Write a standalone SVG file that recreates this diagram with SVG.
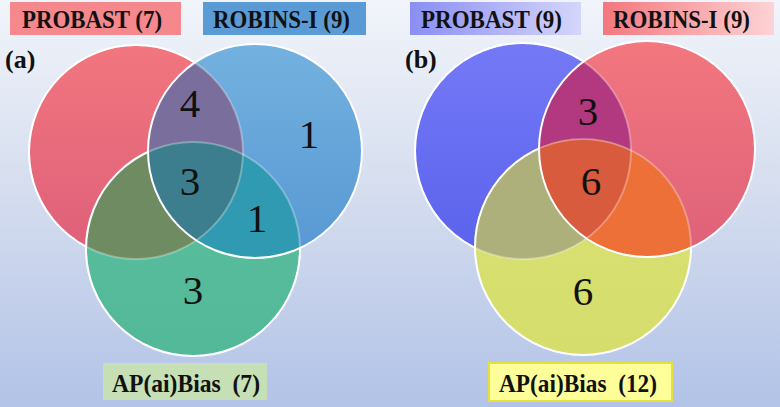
<svg xmlns="http://www.w3.org/2000/svg" width="780" height="407" viewBox="0 0 780 407">
<defs>
<linearGradient id="bg" x1="0" y1="0" x2="0" y2="1">
<stop offset="0" stop-color="#f1f4fa"/>
<stop offset="0.45" stop-color="#d6deef"/>
<stop offset="1" stop-color="#b2c3e7"/>
</linearGradient>
<linearGradient id="gRed" x1="0" y1="0" x2="0" y2="1"><stop offset="0" stop-color="#f1767e"/><stop offset="1" stop-color="#de5f7a"/></linearGradient>
<linearGradient id="gBlue" x1="0" y1="0" x2="0" y2="1"><stop offset="0" stop-color="#73b1df"/><stop offset="1" stop-color="#5898d3"/></linearGradient>
<linearGradient id="gGreen" x1="0" y1="0" x2="0" y2="1"><stop offset="0" stop-color="#5cc09d"/><stop offset="1" stop-color="#52b898"/></linearGradient>
<linearGradient id="gViolet" x1="0" y1="0" x2="0" y2="1"><stop offset="0" stop-color="#7479f6"/><stop offset="1" stop-color="#5a62ec"/></linearGradient>
<linearGradient id="gRed2" x1="0" y1="0" x2="0" y2="1"><stop offset="0" stop-color="#f2777e"/><stop offset="1" stop-color="#de6179"/></linearGradient>
<linearGradient id="gYellow" x1="0" y1="0" x2="0" y2="1"><stop offset="0" stop-color="#d9e173"/><stop offset="1" stop-color="#d5de6c"/></linearGradient>
<linearGradient id="lbBlue" x1="0" y1="0" x2="1" y2="0"><stop offset="0" stop-color="#8a8ef2"/><stop offset="1" stop-color="#d5d6fb"/></linearGradient>
<linearGradient id="lbPink" x1="0" y1="0" x2="1" y2="0"><stop offset="0" stop-color="#f2787e"/><stop offset="1" stop-color="#fdd3d5"/></linearGradient>

<circle id="aA" cx="136" cy="152" r="107"/>
<circle id="aB" cx="255" cy="151" r="107"/>
<circle id="aC" cx="193" cy="249" r="107"/>
<circle id="bA" cx="523" cy="151" r="108"/>
<circle id="bB" cx="647" cy="149" r="108"/>
<circle id="bC" cx="583" cy="247" r="108"/>

<clipPath id="cpaA"><use href="#aA"/></clipPath>
<clipPath id="cpaB"><use href="#aB"/></clipPath>
<clipPath id="cpbA"><use href="#bA"/></clipPath>
<clipPath id="cpbB"><use href="#bB"/></clipPath>

<mask id="maA" maskUnits="userSpaceOnUse" x="0" y="0" width="780" height="407">
<rect width="780" height="407" fill="#fff"/>
<use href="#aB" fill="#000"/><use href="#aC" fill="#000"/>
</mask>
<mask id="maC" maskUnits="userSpaceOnUse" x="0" y="0" width="780" height="407">
<rect width="780" height="407" fill="#fff"/>
<use href="#aB" fill="#000"/>
</mask>
<mask id="mbA" maskUnits="userSpaceOnUse" x="0" y="0" width="780" height="407">
<rect width="780" height="407" fill="#fff"/>
<use href="#bB" fill="#000"/><use href="#bC" fill="#000"/>
</mask>
<mask id="mbC" maskUnits="userSpaceOnUse" x="0" y="0" width="780" height="407">
<rect width="780" height="407" fill="#fff"/>
<use href="#bB" fill="#000"/>
</mask>
</defs>
<style>
text{font-family:"Liberation Serif",serif;}
.lbl{font-weight:bold;fill:#111;}
.num{font-size:41px;fill:#111;text-anchor:middle;}
.st{fill:none;stroke:#fff;stroke-width:2;}
.sth{fill:none;stroke:#fff;stroke-width:2;stroke-opacity:0.3;}
</style>

<rect width="780" height="407" fill="url(#bg)"/>

<g id="panel-a">
<g id="a-fills">
<use href="#aA" fill="url(#gRed)"/>
<use href="#aC" fill="url(#gGreen)"/>
<use href="#aB" fill="url(#gBlue)"/>
<use href="#aB" fill="#7a6f9c" clip-path="url(#cpaA)"/>
<use href="#aC" fill="#6e8b62" clip-path="url(#cpaA)"/>
<use href="#aC" fill="#2f9ab1" clip-path="url(#cpaB)"/>
<g clip-path="url(#cpaA)"><use href="#aC" fill="#3c7e8e" clip-path="url(#cpaB)"/></g>
</g>
<g id="a-outlines">
<use href="#aA" class="sth"/>
<use href="#aC" class="sth"/>
<use href="#aA" class="st" mask="url(#maA)"/>
<use href="#aC" class="st" mask="url(#maC)"/>
<use href="#aB" class="st"/>
</g>
<g id="a-counts">
<text class="num" x="190" y="117">4</text>
<text class="num" x="309" y="148">1</text>
<text class="num" x="190" y="195">3</text>
<text class="num" x="257" y="232">1</text>
<text class="num" x="193" y="304">3</text>
</g>
<text class="lbl" x="5" y="68" font-size="26">(a)</text>
<g id="a-probast">
<rect x="10" y="2" width="171" height="33" fill="#f4888c"/>
<text class="lbl" x="22" y="28" font-size="25" textLength="140" lengthAdjust="spacingAndGlyphs">PROBAST (7)</text>
</g>
<g id="a-robins">
<rect x="203" y="2" width="163" height="33" fill="#5b9bd5"/>
<text class="lbl" x="213" y="28" font-size="25" textLength="137" lengthAdjust="spacingAndGlyphs">ROBINS-I (9)</text>
</g>
<g id="a-apaibias">
<rect x="103" y="363" width="164" height="37" fill="#c6dfb4"/>
<text class="lbl" x="112" y="392" font-size="26" textLength="148" lengthAdjust="spacingAndGlyphs" xml:space="preserve">AP(ai)Bias  (7)</text>
</g>
</g>

<g id="panel-b">
<g id="b-fills">
<use href="#bA" fill="url(#gViolet)"/>
<use href="#bC" fill="url(#gYellow)"/>
<use href="#bB" fill="url(#gRed2)"/>
<use href="#bB" fill="#b2387f" clip-path="url(#cpbA)"/>
<use href="#bC" fill="#aeb07c" clip-path="url(#cpbA)"/>
<use href="#bC" fill="#ee7039" clip-path="url(#cpbB)"/>
<g clip-path="url(#cpbA)"><use href="#bC" fill="#d95b3d" clip-path="url(#cpbB)"/></g>
</g>
<g id="b-outlines">
<use href="#bA" class="sth"/>
<use href="#bC" class="sth"/>
<use href="#bA" class="st" mask="url(#mbA)"/>
<use href="#bC" class="st" mask="url(#mbC)"/>
<use href="#bB" class="st"/>
</g>
<g id="b-counts">
<text class="num" x="588" y="125">3</text>
<text class="num" x="591" y="195">6</text>
<text class="num" x="583" y="305">6</text>
</g>
<text class="lbl" x="405" y="68" font-size="26">(b)</text>
<g id="b-probast">
<rect x="410" y="2" width="171" height="33" fill="url(#lbBlue)"/>
<text class="lbl" x="421" y="28" font-size="25" textLength="141" lengthAdjust="spacingAndGlyphs">PROBAST (9)</text>
</g>
<g id="b-robins">
<rect x="603" y="2" width="171" height="33" fill="url(#lbPink)"/>
<text class="lbl" x="613" y="28" font-size="25" textLength="137" lengthAdjust="spacingAndGlyphs">ROBINS-I (9)</text>
</g>
<g id="b-apaibias">
<rect x="489" y="363" width="183" height="38" fill="#ffff99" stroke="#e6e03a" stroke-width="2"/>
<text class="lbl" x="499" y="392" font-size="26" textLength="158" lengthAdjust="spacingAndGlyphs" xml:space="preserve">AP(ai)Bias  (12)</text>
</g>
</g>
</svg>
